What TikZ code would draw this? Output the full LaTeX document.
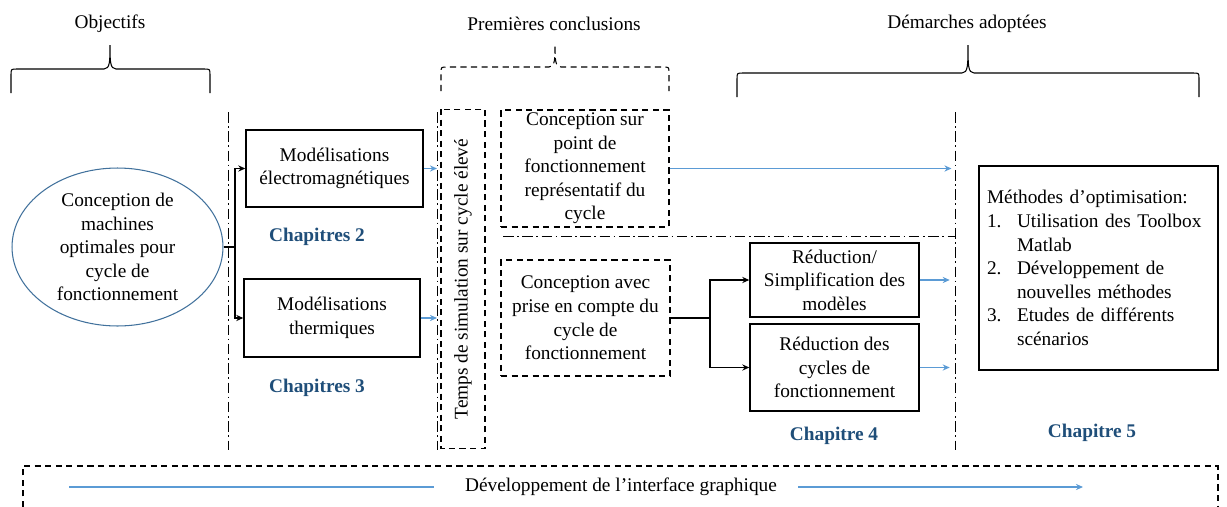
\documentclass[tikz,border=0pt]{standalone}
\usepackage{fontspec}
\setmainfont{Liberation Serif}
\usetikzlibrary{shapes.geometric,arrows.meta}

\definecolor{chapblue}{RGB}{31,78,121}
\definecolor{arrowblue}{RGB}{91,155,213}
\definecolor{ellblue}{RGB}{65,113,156}

\begin{document}
\begin{tikzpicture}[x=0.02cm, y=-0.02cm, >={Stealth[length=4pt,width=3.5pt]},
every node/.style={font=\fontsize{11}{13.4}\selectfont, align=center},
box/.style={draw, line width=.8pt, inner sep=1pt},
dashline/.style={dash pattern=on 3.5pt off 2.5pt},
dbox/.style={draw, dashline, line width=.6pt, inner sep=1pt},
sepline/.style={line width=.5pt, dash pattern=on 6pt off 2pt on 1pt off 2pt},
brace/.style={line width=.6pt},
chap/.style={text=chapblue, font=\fontsize{11}{13.4}\selectfont\bfseries},
bluearrow/.style={->, arrowblue, line width=.7pt},
link/.style={->, line width=.7pt}]

\useasboundingbox (0,0) rectangle (1227,507);

%%%%%%%% TITLES %%%%%%%%%%%%%
\node (obj) at (110,24) {Objectifs};
\node (prem) at (554,24) {Premières conclusions};
\node (dem) at (967,24) {Démarches adoptées};

\foreach \a/\m/\b/\t/\s in {11/110/210/69/solid, 441/555/669/67/dashline, 737/968/1199/73/solid}{
  \draw[brace,\s] (\a,\t+24) -- (\a,\t+6) .. controls (\a,\t) .. (\a+6,\t) -- (\m-6,\t)
    .. controls (\m,\t) and (\m,\t-8) .. (\m,45) .. controls (\m,\t-8) and (\m,\t) .. (\m+6,\t)
    -- (\b-6,\t) .. controls (\b,\t) .. (\b,\t+6) -- (\b,\t+24);
}

%%%%%%%% SEPARATORS %%%%%%%%%%%%%
\coordinate (s1a) at (228,112);
\coordinate (s2a) at (437,112);
\coordinate (s3a) at (955,112);
\foreach \x in {228,437,955}{\draw[sepline] (\x,112) -- (\x,450);}
\draw[sepline] (503,236) -- (955,236);

%%%%%%%% NODES %%%%%%%%%%%%%
\node[ellipse, draw=ellblue, line width=.6pt, minimum width=4.22cm, minimum height=3.16cm, inner sep=0pt] (conc) at (117.5,247)
  {Conception de\\machines\\optimales pour\\cycle de\\fonctionnement};

\node[box, minimum width=3.54cm, minimum height=1.54cm] (em) at (334.5,168.5) {Modélisations\\électromagnétiques};
\node[box, minimum width=3.52cm, minimum height=1.56cm] (th) at (332,318) {Modélisations\\thermiques};
\node[chap] (ch2) at (317,237) {Chapitres 2};
\node[chap] (ch3) at (317,388) {Chapitres 3};

\node[dbox, rotate=90, minimum width=6.8cm, minimum height=0.88cm] (temps) at (463,279) {Temps de simulation sur cycle élevé};

\node[dbox, minimum width=3.36cm, minimum height=2.34cm] (pt) at (585,168.5)
  {Conception sur\\point de\\fonctionnement\\représentatif du\\cycle};
\node[dbox, minimum width=3.38cm, minimum height=2.32cm] (av) at (585.5,318)
  {Conception avec\\prise en compte du\\cycle de\\fonctionnement};

\node[box, minimum width=3.38cm, minimum height=1.48cm] (red) at (834.5,280) {Réduction/\\Simplification des\\modèles};
\node[box, minimum width=3.38cm, minimum height=1.74cm] (cyc) at (834.5,367.5) {Réduction des\\cycles de\\fonctionnement};
\node[chap] (ch4) at (834,436) {Chapitre 4};

\node[box, minimum width=4.78cm, minimum height=4.08cm, inner xsep=4.5pt, text width=4.46cm, align=left] (meth) at (1098.5,268)
  {Méthodes d’optimisation:\\
   \makebox[0.6cm][l]{1.}Utilisation des Toolbox\\
   \hspace*{0.6cm}Matlab\\
   \makebox[0.6cm][l]{2.}Développement de\\
   \hspace*{0.6cm}nouvelles méthodes\\
   \makebox[0.6cm][l]{3.}Etudes de différents\\
   \hspace*{0.6cm}scénarios};
\node[chap] (ch5) at (1092,433) {Chapitre 5};

%%%%%%%% LINKS %%%%%%%%%%%%%
\coordinate (split1) at (235,247);
\draw[line width=.7pt] (conc.east) -- (split1);
\draw[link] (split1) |- (em.west);
\draw[link] (split1) |- (th.west);
\draw[bluearrow] (em.east) -- (em.east -| s2a);
\draw[bluearrow] (th.east) -- (th.east -| s2a);
\draw[bluearrow, shorten >=2pt] (pt.east) -- (pt.east -| s3a);

\coordinate (split2) at (710,318);
\draw[line width=.7pt] (av.east) -- (split2);
\draw[link] (split2) |- (red.west);
\draw[link] (split2) |- (cyc.west);
\draw[bluearrow, shorten >=3pt] (red.east) -- (red.east -| s3a);
\draw[bluearrow, shorten >=3pt] (cyc.east) -- (cyc.east -| s3a);

%%%%%%%% BOTTOM %%%%%%%%%%%%%
\draw[dashline, line width=.6pt] (23,507) -- (23,466) -- (1218,466) -- (1218,507);
\node (dev) at (621,487) {Développement de l’interface graphique};
\coordinate (devL) at (69,487);
\coordinate (devR) at (1083,487);
\draw[arrowblue, line width=.7pt, shorten >=0.5cm] (devL) -- (dev.west);
\draw[bluearrow, shorten <=0.3cm] (dev.east) -- (devR);
\end{tikzpicture}
\end{document}
